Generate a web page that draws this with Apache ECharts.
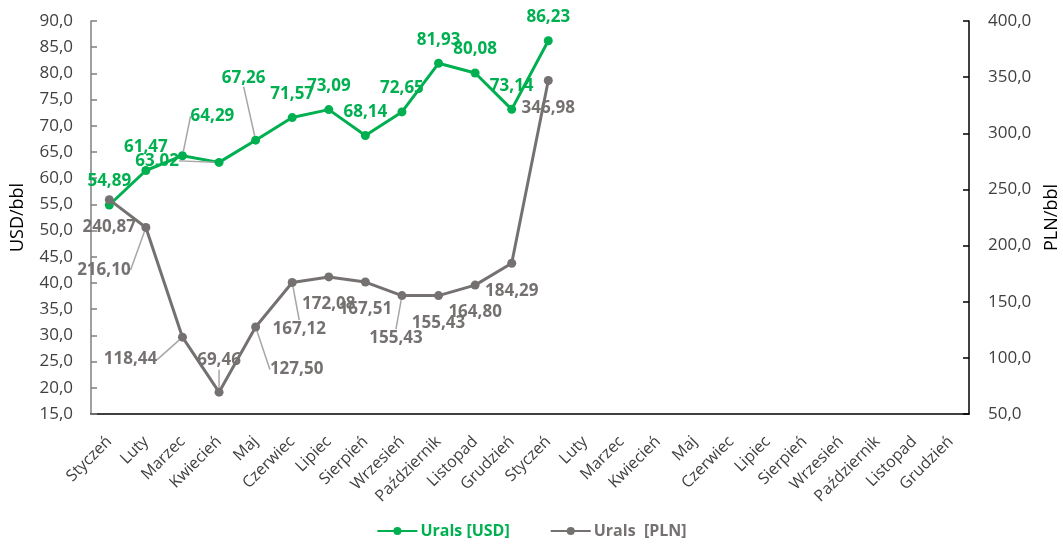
<!DOCTYPE html>
<html>
<head>
<meta charset="utf-8">
<script src="https://cdn.jsdelivr.net/npm/echarts@6/dist/echarts.min.js"></script>
<style>
html,body{margin:0;padding:0;background:#fff;}
#chart{width:1063px;height:545px;}
</style>
</head>
<body>
<div id="chart"></div>
<script>
// ---- data ----
const months = ['Styczeń','Luty','Marzec','Kwiecień','Maj','Czerwiec','Lipiec','Sierpień','Wrzesień','Październik','Listopad','Grudzień',
                'Styczeń','Luty','Marzec','Kwiecień','Maj','Czerwiec','Lipiec','Sierpień','Wrzesień','Październik','Listopad','Grudzień'];
const uralsUSD = [54.89, 61.47, 64.29, 63.02, 67.26, 71.57, 73.09, 68.14, 72.65, 81.93, 80.08, 73.14, 86.23];
const uralsPLN = [240.87, 216.10, 118.44, 69.46, 127.50, 167.12, 172.08, 167.51, 155.43, 155.43, 164.80, 184.29, 346.98];
const seriesNames = ['Urals [USD]', 'Urals  [PLN]'];

// label shifts (pixels, relative to default label position) for labels moved with leader lines
const usdLabelShift = {2: [30, -16], 3: [-62, 22], 4: [-12, -39]};
const plnLabelShift = {1: [-42, 15], 2: [-52, -5], 3: [0, -59], 4: [41, 15], 5: [7, 19], 8: [-6, 15]};

const GREEN = '#00B050';
const GREY = '#767171';
const FONT = '"Open Sans", "Noto Sans", sans-serif';
const LEADER = {show: true, length2: 0, smooth: false, lineStyle: {color: '#A6A6A6', width: 1.5}};

function fmt(v, d) { return v.toFixed(d).replace('.', ','); }

function buildData(values, shifts) {
  return values.map((v, i) => shifts[i] ? {value: v, labelLine: LEADER} : v);
}

const chart = echarts.init(document.getElementById('chart'), null, {renderer: 'canvas'});

const option = {
  animation: false,
  backgroundColor: '#fff',
  textStyle: {fontFamily: FONT},
  grid: {left: 91, right: 94, top: 21, bottom: 131, containLabel: false, outerBoundsMode: 'none'},
  legend: {
    bottom: 1,
    left: 'center',
    itemWidth: 40,
    itemHeight: 10,
    itemGap: 40,
    data: [
      {name: seriesNames[0], textStyle: {color: GREEN}},
      {name: seriesNames[1], textStyle: {color: GREY}}
    ],
    textStyle: {fontFamily: FONT, fontSize: 16, fontWeight: 'bold', padding: [0, 0, 0, -2]}
  },
  xAxis: {
    type: 'category',
    data: months,
    boundaryGap: true,
    axisLine: {lineStyle: {color: '#000', width: 1.5}},
    axisTick: {inside: true, length: 5, interval: 0, lineStyle: {color: '#000', width: 1.5}},
    axisLabel: {interval: 0, rotate: 45, margin: 25, color: '#404040', fontSize: 16, fontFamily: FONT},
    splitLine: {show: false}
  },
  yAxis: [
    {
      type: 'value',
      min: 15, max: 90, interval: 5,
      name: 'USD/bbl',
      nameLocation: 'middle',
      nameRotate: 90,
      nameGap: 64,
      nameTextStyle: {color: '#000', fontSize: 18, fontFamily: FONT},
      axisLine: {show: true, lineStyle: {color: '#7F7F7F', width: 1.5}},
      axisTick: {show: true, inside: true, length: 6, lineStyle: {color: '#7F7F7F', width: 1.5}},
      axisLabel: {color: '#404040', fontSize: 17, margin: 18, fontFamily: FONT, formatter: v => fmt(v, 1)},
      splitLine: {show: false}
    },
    {
      type: 'value',
      min: 50, max: 400, interval: 50,
      name: 'PLN/bbl',
      nameLocation: 'middle',
      nameRotate: 90,
      nameGap: 74,
      nameTextStyle: {color: '#000', fontSize: 18, fontFamily: FONT},
      axisLine: {show: true, lineStyle: {color: '#000', width: 1.5}},
      axisTick: {show: true, inside: true, length: 6, lineStyle: {color: '#000', width: 1.5}},
      axisLabel: {color: '#404040', fontSize: 17, margin: 19, fontFamily: FONT, formatter: v => fmt(v, 1)},
      splitLine: {show: false}
    }
  ],
  series: [
    {
      name: seriesNames[0],
      type: 'line',
      yAxisIndex: 0,
      data: buildData(uralsUSD, usdLabelShift),
      symbol: 'circle',
      symbolSize: 9,
      itemStyle: {color: GREEN},
      lineStyle: {color: GREEN, width: 3},
      label: {
        show: true, position: 'top', distance: 10,
        color: GREEN, fontSize: 17, fontWeight: 'bold', lineHeight: 18, fontFamily: FONT,
        formatter: p => fmt(p.value, 2)
      },
      labelLine: {show: false, length2: 0, lineStyle: {color: '#A6A6A6', width: 1.5}},
      labelLayout: p => {
        const s = usdLabelShift[p.dataIndex];
        return s ? {dx: s[0], dy: s[1]} : {};
      },
      z: 2
    },
    {
      name: seriesNames[1],
      type: 'line',
      yAxisIndex: 1,
      data: buildData(uralsPLN, plnLabelShift),
      symbol: 'circle',
      symbolSize: 9,
      itemStyle: {color: GREY},
      lineStyle: {color: GREY, width: 3},
      label: {
        show: true, position: 'bottom', distance: 14,
        color: GREY, fontSize: 17, fontWeight: 'bold', lineHeight: 18, fontFamily: FONT,
        formatter: p => fmt(p.value, 2)
      },
      labelLine: {show: false, length2: 0, lineStyle: {color: '#A6A6A6', width: 1.5}},
      labelLayout: p => {
        const s = plnLabelShift[p.dataIndex];
        return s ? {dx: s[0], dy: s[1]} : {};
      },
      z: 3
    }
  ]
};

chart.setOption(option);
</script>
</body>
</html>
